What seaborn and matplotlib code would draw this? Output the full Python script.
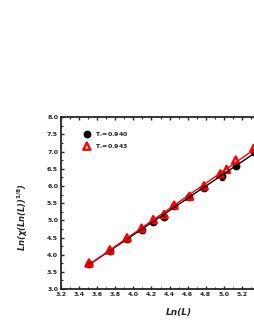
import numpy as np
import pandas as pd
import matplotlib
matplotlib.use("Agg")
import matplotlib.pyplot as plt
import seaborn as sns
from matplotlib.ticker import MultipleLocator

# data
x_black = [3.51, 3.74, 3.93, 4.09, 4.22, 4.34, 4.45, 4.62, 4.78, 4.98, 5.13, 5.33]
y_black = [3.74, 4.12, 4.47, 4.72, 4.96, 5.10, 5.42, 5.67, 5.95, 6.30, 6.58, 6.98]
err_black = [0.03, 0.03, 0.03, 0.03, 0.03, 0.03, 0.03, 0.03, 0.03, 0.12, 0.03, 0.03]
x_red = [3.51, 3.74, 3.93, 4.09, 4.22, 4.34, 4.45, 4.62, 4.78, 4.96, 5.03, 5.13, 5.33]
y_red = [3.76, 4.14, 4.49, 4.77, 5.02, 5.17, 5.44, 5.70, 6.00, 6.35, 6.48, 6.75, 7.10]
labels = ["T$_c$=0.940", "T$_c$=0.943"]

sns.set_style("ticks")
plt.rcParams['font.family'] = ['DejaVu Sans']

fig = plt.figure(figsize=(2.55, 3.3), dpi=100)
ax = fig.add_axes([0.239, 0.124, 0.923, 0.521])

dfb = pd.DataFrame({"x": x_black, "y": y_black})
dfr = pd.DataFrame({"x": x_red, "y": y_red})

ax.errorbar(x_black, y_black, yerr=err_black, fmt='none', ecolor='black', elinewidth=0.8, capsize=1.5, zorder=2)
sns.scatterplot(data=dfb, x="x", y="y", ax=ax, marker='o', s=26, color='black',
                edgecolor='black', linewidth=0.5, label=labels[0], zorder=3)
sns.scatterplot(data=dfr, x="x", y="y", ax=ax, marker='^', s=26, facecolor='none',
                edgecolor='red', linewidth=1.7, label=labels[1], zorder=4)

xx = np.array([3.48, 5.8])
pb = np.polyfit(x_black, y_black, 1)
pr = np.polyfit(x_red, y_red, 1)
ax.plot(xx, np.polyval(pb, xx), color='black', lw=1.0, zorder=5)
ax.plot(xx, np.polyval(pr, xx), color='red', lw=1.0, zorder=5)

ax.set_xlim(3.2, 5.8)
ax.set_ylim(3.0, 8.0)
ax.xaxis.set_major_locator(MultipleLocator(0.2))
ax.xaxis.set_minor_locator(MultipleLocator(0.1))
ax.yaxis.set_major_locator(MultipleLocator(0.5))
ax.yaxis.set_minor_locator(MultipleLocator(0.25))
xt = ax.get_xticks()
ax.set_xticks(xt)
ax.set_xticklabels([f"{v:.1f}" if v < 5.3 else "" for v in xt])
ax.set_xlim(3.2, 5.8)
ax.tick_params(axis='both', which='major', labelsize=4.5, width=1.0, length=2.5, direction='in', pad=2,
               top=True, right=False)
ax.tick_params(axis='both', which='minor', width=0.8, length=1.5, direction='in', top=True, right=False)
for lab in ax.get_xticklabels() + ax.get_yticklabels():
    lab.set_fontweight('bold')
for side in ['left', 'bottom', 'top']:
    ax.spines[side].set_visible(True)
    ax.spines[side].set_linewidth(1.3)
ax.spines['right'].set_visible(False)

ax.set_xlabel("Ln(L)", fontsize=6.5, fontweight='bold', fontstyle='italic', labelpad=8)
ax.set_ylabel("Ln(χ(Ln(L))$^{\\mathbf{1/8}}$)", fontsize=6, fontweight='bold', fontstyle='italic')
ax.yaxis.set_label_coords(-0.13, 0.42)

leg = ax.legend(loc='upper left', bbox_to_anchor=(0.065, 0.95), frameon=False, fontsize=4.5,
                handletextpad=0.3, labelspacing=0.45, borderpad=0.2)
for t in leg.get_texts():
    t.set_fontweight('bold')

fig.savefig("out.png", dpi=100)
